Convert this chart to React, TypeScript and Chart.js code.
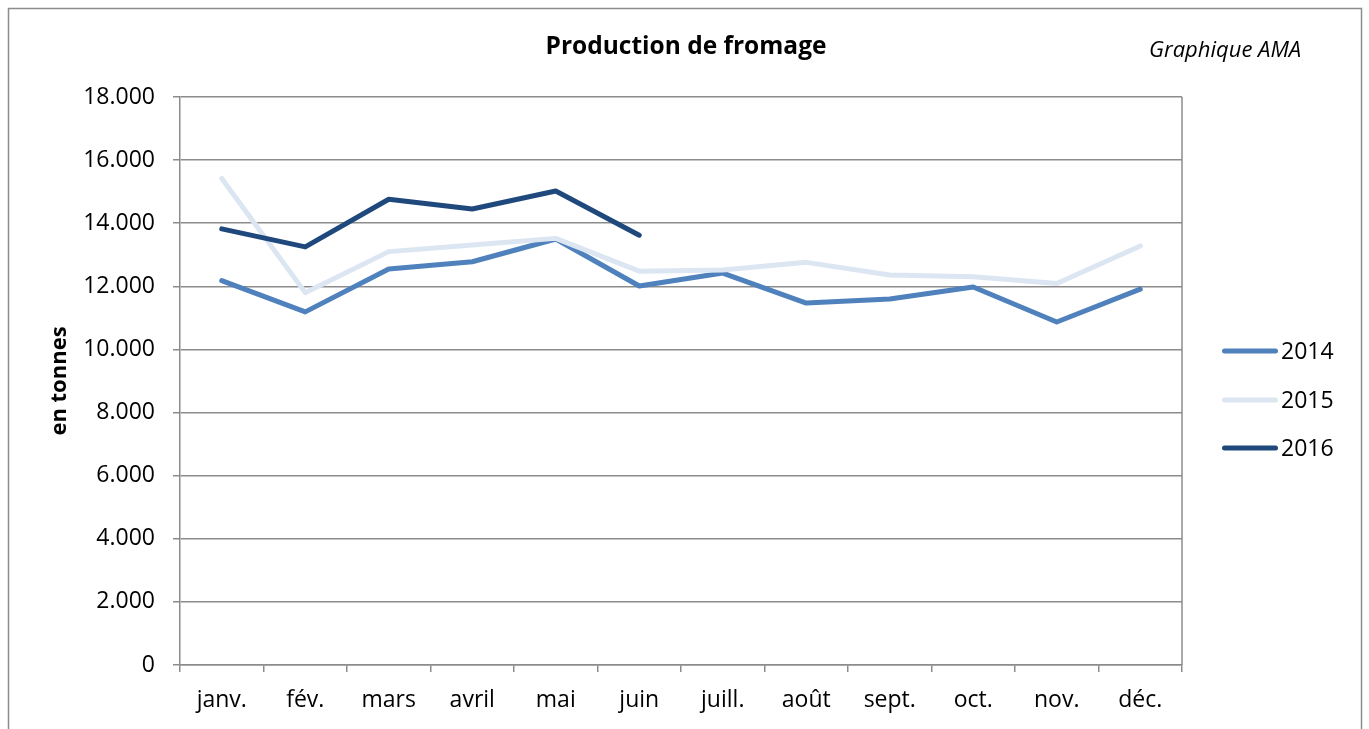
import React, { useEffect, useRef } from "react";
import { Chart, registerables } from "chart.js";

Chart.register(...registerables);

const months = ["janv.", "fév.", "mars", "avril", "mai", "juin", "juill.", "août", "sept.", "oct.", "nov.", "déc."];
const years = ["2014", "2015", "2016"];
const values2014 = [12180, 11190, 12550, 12780, 13500, 12010, 12420, 11470, 11600, 11980, 10870, 11910];
const values2015 = [15420, 11800, 13100, 13310, 13520, 12480, 12520, 12760, 12360, 12300, 12090, 13280];
const values2016 = [13820, 13250, 14760, 14450, 15020, 13620, null, null, null, null, null, null];
const colors = ["#4F81BD", "#DCE6F2", "#1F497D"];

const chartTitle = "Production de fromage";
const sourceNote = "Graphique AMA";
const yTitle = "en tonnes";

const FONT = "'Open Sans', sans-serif";
const GRID = "#8c8c8c";

const fmt = (v: number) => {
  if (v === 0) return "0";
  const th = Math.floor(v / 1000);
  const rest = String(Math.round(v % 1000)).padStart(3, "0");
  return th + "." + rest;
};

const decorPlugin = {
  id: "decor",
  afterDraw(chart: any) {
    const { ctx, chartArea } = chart;
    ctx.save();
    // outer frame
    ctx.strokeStyle = "#8c8c8c";
    ctx.lineWidth = 1.5;
    ctx.strokeRect(8.5, 8.5, 1353, 900);
    // right border of plot area
    ctx.beginPath();
    ctx.moveTo(chartArea.right, chartArea.top);
    ctx.lineTo(chartArea.right, chartArea.bottom);
    ctx.strokeStyle = GRID;
    ctx.lineWidth = 1.5;
    ctx.stroke();
    // title
    ctx.fillStyle = "#000";
    ctx.textAlign = "center";
    ctx.textBaseline = "middle";
    ctx.font = `bold 24.5px ${FONT}`;
    ctx.fillText(chartTitle, 686, 47);
    // source note
    ctx.font = `italic 22px ${FONT}`;
    ctx.textAlign = "left";
    ctx.fillText(sourceNote, 1149, 51);
    // legend
    const legendY = [351, 400, 448];
    chart.data.datasets.forEach((ds: any, i: number) => {
      const y = legendY[i];
      ctx.beginPath();
      ctx.moveTo(1224.5, y);
      ctx.lineTo(1275.5, y);
      ctx.strokeStyle = ds.borderColor;
      ctx.lineWidth = 5;
      ctx.lineCap = "round";
      ctx.stroke();
      ctx.fillStyle = "#000";
      ctx.font = `23px ${FONT}`;
      ctx.textAlign = "left";
      ctx.textBaseline = "middle";
      ctx.fillText(ds.label, 1281, y + 1);
    });
    ctx.restore();
  },
};

export default function App() {
  const ref = useRef<HTMLCanvasElement>(null);
  useEffect(() => {
    if (!ref.current) return;
    const series = [values2014, values2015, values2016];
    const chart = new Chart(ref.current, {
      type: "line",
      data: {
        labels: months,
        datasets: years.map((y, i) => ({
          label: y,
          data: series[i],
          borderColor: colors[i],
          backgroundColor: colors[i],
          borderWidth: 5,
          pointRadius: 0,
          pointHoverRadius: 0,
          tension: 0,
          borderJoinStyle: "round" as const,
          borderCapStyle: "round" as const,
          spanGaps: false,
          order: 3 - i,
        })),
      },
      options: {
        animation: false,
        responsive: false,
        maintainAspectRatio: false,
        layout: { padding: { left: 0, top: 97, right: 187, bottom: 0 } },
        plugins: {
          legend: { display: false },
          title: { display: false },
          tooltip: { enabled: false },
        },
        scales: {
          x: {
            type: "category",
            offset: true,
            afterFit: (s: any) => {
              s.height = 64;
            },
            grid: {
              display: true,
              drawOnChartArea: false,
              offset: true,
              tickLength: 7,
              color: GRID,
              lineWidth: 1.5,
            },
            border: { display: true, color: GRID, width: 1.5 },
            ticks: {
              color: "#000",
              font: { family: FONT, size: 23 },
              padding: 15,
              maxRotation: 0,
              autoSkip: false,
            },
          },
          y: {
            min: 0,
            max: 18000,
            afterFit: (s: any) => {
              s.width = 180;
            },
            grid: {
              color: GRID,
              lineWidth: 1.5,
              tickLength: 7,
              drawOnChartArea: true,
            },
            border: { display: true, color: GRID, width: 1.5 },
            ticks: {
              stepSize: 2000,
              color: "#000",
              font: { family: FONT, size: 23 },
              padding: 18,
              callback: (v: any) => fmt(Number(v)),
            },
            title: {
              display: true,
              text: yTitle,
              color: "#000",
              font: { family: FONT, size: 22, weight: "bold" },
              padding: { top: 47, bottom: 0 },
            },
          },
        },
      },
      plugins: [decorPlugin],
    });
    return () => chart.destroy();
  }, []);
  return (
    <div style={{ position: "fixed", left: 0, top: 0, width: 1369, height: 729, background: "#fff" }}>
      <canvas ref={ref} width={1369} height={729} style={{ display: "block", width: 1369, height: 729 }} />
    </div>
  );
}
